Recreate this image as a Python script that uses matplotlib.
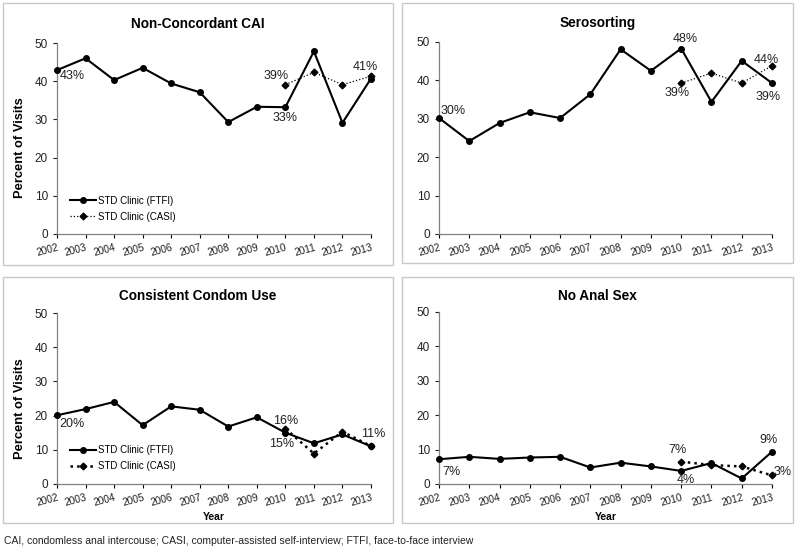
import matplotlib
matplotlib.use("Agg")
import matplotlib.pyplot as plt
from matplotlib.patches import Rectangle

plt.rcParams['font.family'] = ['Liberation Sans', 'DejaVu Sans']

years = list(range(2002, 2014))
casi_years = [2010, 2011, 2012, 2013]

titles = ["Non-Concordant CAI", "Serosorting", "Consistent Condom Use", "No Anal Sex"]

ftfi_cai = [42.9, 46.0, 40.3, 43.5, 39.4, 37.1, 29.3, 33.3, 33.2, 47.8, 29.1, 40.7]
casi_cai = [39.1, 42.3, 39.1, 41.3]

ftfi_sero = [30.2, 24.2, 28.9, 31.7, 30.2, 36.4, 48.1, 42.5, 48.3, 34.4, 45.1, 39.3]
casi_sero = [39.3, 41.9, 39.3, 43.8]

ftfi_condom = [20.1, 21.9, 24.0, 17.2, 22.7, 21.7, 16.8, 19.5, 15.0, 11.9, 14.5, 11.0]
casi_condom = [16.2, 8.9, 15.3, 11.1]

ftfi_noanal = [7.2, 7.9, 7.3, 7.7, 7.9, 4.8, 6.2, 5.1, 3.8, 6.1, 1.6, 9.4]
casi_noanal = [6.5, 5.5, 5.1, 2.5]

# annotations: (text, x, y)
labels_cai = [("43%", 2002.53, 41.4), ("39%", 2009.67, 41.3), ("33%", 2010.0, 30.4), ("41%", 2012.8, 43.6)]
labels_sero = [("30%", 2002.47, 32.1), ("48%", 2010.12, 50.9), ("39%", 2009.86, 36.8),
               ("44%", 2012.82, 45.2), ("39%", 2012.87, 35.8)]
labels_condom = [("20%", 2002.51, 17.5), ("16%", 2010.02, 18.3), ("15%", 2009.88, 11.7), ("11%", 2013.07, 14.6)]
labels_noanal = [("7%", 2002.42, 3.4), ("7%", 2009.89, 10.0), ("4%", 2010.15, 1.1),
                 ("9%", 2012.87, 12.9), ("3%", 2013.35, 3.6)]

fig = plt.figure(figsize=(8.0, 5.53), dpi=100)
W, H = 800.0, 553.0

def fr(x0, y0, x1, y1):
    return [x0 / W, 1 - y1 / H, (x1 - x0) / W, (y1 - y0) / H]

panels = [(3, 3, 393, 265), (402, 3, 793, 263), (3, 277, 393, 523), (402, 277, 793, 523)]
title_y = [24, 23, 296, 296]

# panel borders
for (x0, y0, x1, y1) in panels:
    fig.add_artist(Rectangle((x0 / W, 1 - y1 / H), (x1 - x0) / W, (y1 - y0) / H,
                             transform=fig.transFigure, fill=False, edgecolor='#c8c8c8', linewidth=1.0))

axes_rects = [fr(57, 43, 371, 234), fr(439, 42, 772, 234), fr(57, 313, 371, 484), fr(439, 312, 772, 484)]
ftfi_all = [ftfi_cai, ftfi_sero, ftfi_condom, ftfi_noanal]
casi_all = [casi_cai, casi_sero, casi_condom, casi_noanal]
labels_all = [labels_cai, labels_sero, labels_condom, labels_noanal]

for i, rect in enumerate(axes_rects):
    ax = fig.add_axes(rect)
    lower = i >= 2
    ax.plot(years, ftfi_all[i], '-', color='black', linewidth=1.5, marker='o', markersize=4,
            clip_on=False, label='STD Clinic (FTFI)', zorder=3)
    ax.plot(casi_years, casi_all[i], ':', color='black', linewidth=1.8 if lower else 0.9,
            marker='D', markersize=3.4, clip_on=False, label='STD Clinic (CASI)', zorder=3)
    ax.set_xlim(2002, 2013)
    ax.set_ylim(0, 50)
    ax.set_yticks([0, 10, 20, 30, 40, 50])
    ax.set_xticks(years)
    ax.set_xticklabels([str(y) for y in years], rotation=15, ha='right', rotation_mode='anchor',
                       fontsize=7.3, color='#222222')
    ax.tick_params(axis='y', labelsize=8.5, colors='#222222', length=3, width=0.8)
    ax.tick_params(axis='x', length=3, width=0.8, pad=3)
    for s in ['top', 'right']:
        ax.spines[s].set_visible(False)
    for s in ['left', 'bottom']:
        ax.spines[s].set_color('#808080')
        ax.spines[s].set_linewidth(0.9)
    x0, y0, x1, y1 = panels[i]
    fig.text((x0 + x1) / 2 / W, 1 - title_y[i] / H, titles[i], fontsize=9.8, fontweight='bold',
             ha='center', va='center')
    for (t, x, y) in labels_all[i]:
        ax.text(x, y, t, ha='center', va='center', fontsize=9, color='#222222', clip_on=False)
    if i % 2 == 0:
        ax.set_ylabel('Percent of Visits', fontsize=9.3, fontweight='bold')
        ax.yaxis.set_label_coords(-0.10, 0.45 if not lower else 0.44)
        ax.legend(loc='upper left', bbox_to_anchor=(0.03, 0.22 if not lower else 0.25),
                  frameon=False, fontsize=7, handlelength=2.6, handletextpad=0.2,
                  labelspacing=0.6, borderaxespad=0)
    if lower:
        ax.set_xlabel('Year', fontsize=7.5, fontweight='bold', labelpad=3)

fig.text(4 / W, 1 - 541 / H, 'CAI, condomless anal intercouse; CASI, computer-assisted self-interview; FTFI, face-to-face interview',
         fontsize=7.5, va='center', ha='left', color='#222222')

fig.savefig('out.png', dpi=100)
